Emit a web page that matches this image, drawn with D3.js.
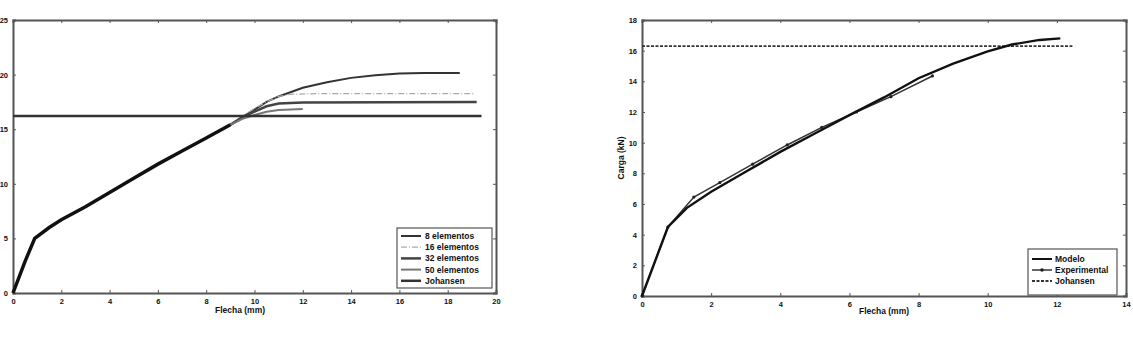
<!DOCTYPE html>
<html>
<head>
<meta charset="utf-8">
<script src="https://cdn.jsdelivr.net/npm/d3@7"></script>
<style>
  body { margin: 0; background: #fff; }
  text { font-family: "Liberation Sans", Arial, sans-serif; font-weight: bold; fill: #111; }
</style>
</head>
<body>
<div id="chart"></div>
<script>
// ---- data ----
// left panel : carga vs flecha for several meshes
var comun = [[0,0],[0.5,2.9],[0.9,5.0],[1.5,6.0],[2,6.7],[3,7.9],[4,9.2],[5,10.5],[6,11.8],[7,13.0],[8,14.2],[9,15.4]];
var el8  = [[9,15.4],[9.5,16.1],[10,16.8],[10.5,17.5],[11,18.0],[12,18.8],[13,19.3],[14,19.7],[15,19.95],[16,20.1],[17,20.15],[18.5,20.15]];
var el16 = [[9,15.4],[9.5,16.2],[10,16.9],[10.5,17.5],[11,18.0],[11.5,18.2],[12.5,18.25],[19.1,18.25]];
var el32 = [[9,15.4],[9.5,16.1],[10,16.6],[10.5,17.1],[11,17.35],[12,17.45],[19.2,17.5]];
var el50 = [[9,15.4],[9.5,15.95],[10,16.3],[10.5,16.6],[11,16.75],[12,16.85]];
var johansenIzq = [[0,16.2],[19.4,16.2]];
var seriesIzq = ["8 elementos","16 elementos","32 elementos","50 elementos","Johansen"];
var ticksXIzq = [0,2,4,6,8,10,12,14,16,18,20];
var ticksYIzq = [0,5,10,15,20,25];

// right panel : model vs experiment
var modelo = [[0,0],[0.75,4.5],[1.3,5.75],[2,6.8],[3,8.1],[4,9.4],[5,10.6],[6,11.8],[7,12.95],[8,14.2],[9,15.15],[10,15.95],[10.7,16.4],[11.5,16.7],[12.1,16.8]];
var experimental = [[0,0],[0.75,4.5],[1.5,6.45],[2.25,7.4],[3.2,8.6],[4.2,9.85],[5.2,11.0],[6.2,12.0],[7.2,13.0],[8.4,14.35]];
var johansenDer = [[0,16.3],[12.45,16.3]];
var seriesDer = ["Modelo","Experimental","Johansen"];
var ticksXDer = [0,2,4,6,8,10,12,14];
var ticksYDer = [0,2,4,6,8,10,12,14,16,18];

var svg = d3.select("#chart").append("svg")
  .attr("width", 1133).attr("height", 350);

// ---- generic panel (matlab style box with ticks on 4 sides) ----
function panel(left, right, top, bottom, xmax, ymax, xt, yt) {
  var x = d3.scaleLinear().domain([0, xmax]).range([left, right]);
  var y = d3.scaleLinear().domain([0, ymax]).range([bottom, top]);
  var g = svg.append("g");
  g.append("g").attr("transform", "translate(0," + bottom + ")")
    .call(d3.axisBottom(x).tickValues(xt).tickSize(-3).tickPadding(6));
  g.append("g").attr("transform", "translate(0," + top + ")")
    .call(d3.axisTop(x).tickValues(xt).tickSize(-3).tickFormat(""));
  g.append("g").attr("transform", "translate(" + left + ",0)")
    .call(d3.axisLeft(y).tickValues(yt).tickSize(-3).tickPadding(5));
  g.append("g").attr("transform", "translate(" + right + ",0)")
    .call(d3.axisRight(y).tickValues(yt).tickSize(-3).tickFormat(""));
  g.selectAll(".domain").attr("stroke", "#555").attr("stroke-width", 2);
  g.selectAll(".tick line").attr("stroke", "#555");
  g.selectAll(".tick text").style("font-size", "7.5px").style("font-weight", "bold");
  return {x: x, y: y, g: g};
}

function line(p) {
  return d3.line().x(function(d){ return p.x(d[0]); }).y(function(d){ return p.y(d[1]); });
}

// ---- left panel ----
var L = panel(13, 496, 20, 293, 20, 25, ticksXIzq, ticksYIzq);
var lineL = line(L);
var estilosIzq = [
  {d: el8,  color: "#333", w: 2,   dash: null},
  {d: el16, color: "#aaa", w: 1.3, dash: "6,2,1,2"},
  {d: el32, color: "#444", w: 2.5, dash: null},
  {d: el50, color: "#777", w: 2,   dash: null},
  {d: johansenIzq, color: "#333", w: 2.5, dash: null}
];
estilosIzq.forEach(function(s) {
  L.g.append("path").datum(s.d).attr("d", lineL)
    .attr("fill", "none").attr("stroke", s.color).attr("stroke-width", s.w)
    .attr("stroke-dasharray", s.dash);
});
// all meshes overlap on the first part, drawn as one thick bundle
L.g.append("path").datum(comun).attr("d", lineL)
  .attr("fill", "none").attr("stroke", "#111").attr("stroke-width", 3.5);
L.g.append("text").attr("x", 240).attr("y", 313).attr("text-anchor", "middle")
  .style("font-size", "8.5px").text("Flecha (mm)");

// left legend
var legL = L.g.append("g").attr("transform", "translate(397,228)");
legL.append("rect").attr("width", 95).attr("height", 60)
  .attr("fill", "#fff").attr("stroke", "#555").attr("stroke-width", 1.2);
seriesIzq.forEach(function(n, i) {
  var s = estilosIzq[i];
  var yy = 8 + i * 11.2;
  legL.append("line").attr("x1", 4).attr("x2", 24).attr("y1", yy).attr("y2", yy)
    .attr("stroke", s.color).attr("stroke-width", s.w).attr("stroke-dasharray", s.dash);
  legL.append("text").attr("x", 28).attr("y", yy + 3).style("font-size", "8.5px").text(n);
});

// ---- right panel ----
var R = panel(642, 1126, 20, 296, 14, 18, ticksXDer, ticksYDer);
var lineR = line(R);
R.g.append("path").datum(johansenDer).attr("d", lineR)
  .attr("fill", "none").attr("stroke", "#333").attr("stroke-width", 1.8)
  .attr("stroke-dasharray", "3,1.5");
R.g.append("path").datum(experimental).attr("d", lineR)
  .attr("fill", "none").attr("stroke", "#333").attr("stroke-width", 1.5);
R.g.selectAll(".mk").data(experimental).enter().append("circle")
  .attr("cx", function(d){ return R.x(d[0]); }).attr("cy", function(d){ return R.y(d[1]); })
  .attr("r", 1.6).attr("fill", "#222");
R.g.append("path").datum(modelo).attr("d", lineR)
  .attr("fill", "none").attr("stroke", "#111").attr("stroke-width", 2.4);
R.g.append("text").attr("x", 884).attr("y", 314).attr("text-anchor", "middle")
  .style("font-size", "8.5px").text("Flecha (mm)");
R.g.append("text").attr("transform", "translate(624,158) rotate(-90)")
  .attr("text-anchor", "middle").style("font-size", "8.5px").text("Carga (kN)");

// right legend
var legR = R.g.append("g").attr("transform", "translate(1028,249)");
legR.append("rect").attr("width", 89).attr("height", 46)
  .attr("fill", "#fff").attr("stroke", "#555").attr("stroke-width", 1.2);
var estilosDer = [
  {color: "#111", w: 2, dash: null, mk: false},
  {color: "#333", w: 1.5, dash: null, mk: true},
  {color: "#333", w: 1.8, dash: "3,1.5", mk: false}
];
seriesDer.forEach(function(n, i) {
  var s = estilosDer[i];
  var yy = 10 + i * 11;
  legR.append("line").attr("x1", 4).attr("x2", 24).attr("y1", yy).attr("y2", yy)
    .attr("stroke", s.color).attr("stroke-width", s.w).attr("stroke-dasharray", s.dash);
  if (s.mk) legR.append("circle").attr("cx", 14).attr("cy", yy).attr("r", 1.8).attr("fill", "#222");
  legR.append("text").attr("x", 27).attr("y", yy + 3).style("font-size", "8.5px").text(n);
});
</script>
</body>
</html>
